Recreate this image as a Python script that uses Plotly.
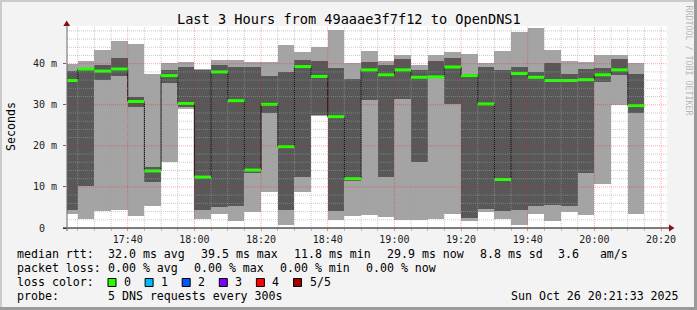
import plotly.graph_objects as go
import pandas as pd

# ---------------- data ----------------
day = "2025-10-26 "
bar_start = ["17:20", "17:25", "17:30", "17:35", "17:40", "17:45", "17:50", "17:55",
             "18:00", "18:05", "18:10", "18:15", "18:20", "18:25", "18:30", "18:35",
             "18:40", "18:45", "18:50", "18:55", "19:00", "19:05", "19:10", "19:15",
             "19:20", "19:25", "19:30", "19:35", "19:40", "19:45", "19:50", "19:55",
             "20:00", "20:05", "20:10"]
# sorted ping rtts (ms) per 5-minute step, 5 pings each
ping1 = [3.5, 2.3, 4.2, 4.5, 3.0, 5.3, 16.0, 28.9, 2.3, 3.5, 1.8, 4.0, 8.7, 0.8, 8.7, 27.2,
         2.0, 3.0, 3.1, 2.8, 1.9, 1.9, 2.3, 3.3, 1.6, 3.8, 2.3, 0.8, 3.3, 1.6, 3.8, 3.1,
         10.8, 29.9, 3.3]
ping2 = [4.5, 10.3, 36.0, 36.9, 29.4, 11.1, 35.2, 29.5, 4.3, 5.0, 5.4, 13.3, 27.9, 4.5, 12.5, 27.6,
         4.1, 11.5, 31.1, 12.5, 31.5, 16.0, 36.5, 30.3, 2.4, 4.7, 4.1, 4.3, 5.3, 5.7, 5.4, 13.3,
         35.5, 37.2, 27.9]
median_rtt = [35.9, 38.7, 38.2, 38.7, 30.8, 13.9, 37.1, 30.3, 12.4, 38.0, 31.0, 14.1, 30.1, 19.8, 39.3, 36.9,
              27.1, 12.0, 38.5, 37.3, 38.5, 36.7, 36.8, 39.2, 37.1, 30.2, 11.8, 37.6, 36.7, 35.9, 35.9, 36.1,
              37.3, 38.5, 29.8]
ping4 = [38.2, 38.9, 39.6, 41.3, 31.8, 14.9, 38.4, 39.3, 38.4, 39.6, 39.2, 39.2, 36.9, 37.9, 40.8, 40.6,
         38.9, 36.2, 40.3, 39.6, 41.1, 38.4, 40.6, 41.5, 37.6, 39.3, 38.4, 39.2, 37.9, 40.1, 37.4, 38.6,
         38.9, 41.1, 37.6]
ping5 = [39.9, 40.6, 43.3, 45.5, 44.7, 37.6, 40.1, 40.3, 38.7, 40.8, 40.8, 40.3, 40.3, 44.5, 42.8, 44.0,
         48.1, 40.1, 43.1, 40.7, 42.0, 39.7, 42.0, 42.8, 42.3, 40.1, 43.0, 47.7, 48.6, 43.3, 40.6, 40.3,
         42.0, 42.0, 40.1]

y_tickvals = [0, 10, 20, 30, 40]
y_ticktext = ["0\u00a0\u00a0", "10 m", "20 m", "30 m", "40 m"]

title_text = "Last 3 Hours from 49aaae3f7f12 to OpenDNS1"
median_label = "median rtt:"
median_items = ["32.0 ms avg", "39.5 ms max", "11.8 ms min", "29.9 ms now", "8.8 ms sd", "3.6   am/s"]
loss_label = "packet loss:"
loss_items = ["0.00 % avg", "0.00 % max", "0.00 % min", "0.00 % now"]
lossc_label = "loss color:"
loss_labels = ["0", "1", "2", "3", "4", "5/5"]
loss_colors = ["#26ff00", "#00b8ff", "#0059ff", "#7e00ff", "#ff0000", "#a10000"]
probe_label = "probe:"
probe_items = ["5 DNS requests every 300s"]
stamp = "Sun Oct 26 20:21:33 2025"
watermark = "RRDTOOL / TOBI OETIKER"

# ---------------- geometry ----------------
FW, FH = 697, 310
L, T, W, H = 67, 26, 600, 202
B = T + H
YMAX = H / 4.1075
x_start = pd.Timestamp(day + "17:21:47")
x_end = x_start + pd.Timedelta(hours=3)
STEP_MS = 300000
MONO = "DejaVu Sans Mono"
LEG = 11.6
CW = LEG * 0.602  # monospace advance


def xp(px):
    return (px - L) / W


def yp(py):
    return (B - py) / H


def nb(s):
    return s.replace(" ", "\u00a0")


starts = pd.to_datetime([day + s for s in bar_start])
centers = starts + pd.Timedelta(seconds=150)
ends = starts + pd.Timedelta(minutes=5)

LIGHT = "#a4a4a4"
DARK = "#585858"

fig = go.Figure()
# outer smoke (ping1..ping5)
fig.add_trace(go.Bar(x=centers, base=ping1, y=[b - a for a, b in zip(ping1, ping5)],
                     width=STEP_MS, marker=dict(color=LIGHT, line=dict(width=0)),
                     hoverinfo="skip"))
# inner smoke (ping2..ping4)
fig.add_trace(go.Bar(x=centers, base=ping2, y=[b - a for a, b in zip(ping2, ping4)],
                     width=STEP_MS, marker=dict(color=DARK, line=dict(width=0)),
                     hoverinfo="skip"))
# median step line
line_x = list(starts) + [ends[-1]]
line_y = list(median_rtt) + [median_rtt[-1]]
fig.add_trace(go.Scatter(x=line_x, y=line_y, mode="lines",
                         line=dict(color="#101010", width=1, shape="hv"),
                         hoverinfo="skip"))
# median marks coloured by loss (all 0 loss)
gx, gy = [], []
for s, e, m in zip(starts, ends, median_rtt):
    gx += [s, e, None]
    gy += [m, m, None]
fig.add_trace(go.Scatter(x=gx, y=gy, mode="lines", connectgaps=False,
                         line=dict(color=loss_colors[0], width=3), hoverinfo="skip"))

shapes = []
# grid drawn above the data (rrdtool style)
minor_col = "rgba(160,160,160,0.55)"
major_col = "rgba(255,0,0,0.35)"
t = pd.Timestamp(day + "17:25")
while t <= x_end:
    major = (t.minute % 20 == 0)
    shapes.append(dict(type="line", xref="x", yref="paper", x0=t, x1=t, y0=0, y1=1,
                       line=dict(color=major_col if major else minor_col, width=1, dash="1px,1px"),
                       layer="above"))
    t += pd.Timedelta(minutes=5)
for v in range(2, int(YMAX) + 1, 2):
    major = (v % 10 == 0)
    shapes.append(dict(type="line", xref="paper", yref="y", x0=0, x1=1, y0=v, y1=v,
                       line=dict(color=major_col if major else minor_col, width=1, dash="1px,1px"),
                       layer="above"))

# axis lines and arrows
shapes.append(dict(type="line", xref="paper", yref="paper", x0=xp(63), x1=xp(670), y0=0, y1=0,
                   line=dict(color="#000000", width=1), layer="above"))
shapes.append(dict(type="line", xref="paper", yref="paper", x0=0, x1=0, y0=yp(231), y1=yp(24),
                   line=dict(color="#666666", width=1), layer="above"))
shapes.append(dict(type="path", xref="paper", yref="paper",
                   path=f"M {xp(66.7)},{yp(20.5)} L {xp(63.3)},{yp(26)} L {xp(70.1)},{yp(26)} Z",
                   fillcolor="#8b1010", line=dict(width=0), layer="above"))
shapes.append(dict(type="path", xref="paper", yref="paper",
                   path=f"M {xp(674.5)},{yp(228)} L {xp(669)},{yp(224.6)} L {xp(669)},{yp(231.4)} Z",
                   fillcolor="#8b1010", line=dict(width=0), layer="above"))

# 3D frame
shapes += [
    dict(type="rect", xref="paper", yref="paper", x0=xp(0), x1=xp(FW), y0=yp(0), y1=yp(2),
         fillcolor="#cbcbcb", line=dict(width=0)),
    dict(type="rect", xref="paper", yref="paper", x0=xp(0), x1=xp(2), y0=yp(0), y1=yp(FH),
         fillcolor="#cbcbcb", line=dict(width=0)),
    dict(type="rect", xref="paper", yref="paper", x0=xp(FW - 3), x1=xp(FW), y0=yp(0), y1=yp(FH),
         fillcolor="#9a9a9a", line=dict(width=0)),
    dict(type="rect", xref="paper", yref="paper", x0=xp(0), x1=xp(FW), y0=yp(FH - 3), y1=yp(FH),
         fillcolor="#9a9a9a", line=dict(width=0)),
]

anns = []


def text_at(txt, px, py, anchor="left", size=LEG, angle=0, color="#000000"):
    anns.append(dict(text=nb(txt), x=xp(px), y=yp(py), xanchor=anchor, yanchor="middle",
                     textangle=angle, font=dict(family=MONO, size=size, color=color)))


text_at(title_text, 348.5, 19, anchor="center", size=13.6)
text_at("Seconds", 11, 127, anchor="center", angle=-90)
text_at(watermark, 688.5, 60, anchor="center", size=8.3, angle=90, color="#b8b8b8")

VAL_X = 107.3
GAP = 16


def legend_row(label, items, py):
    text_at(label, 16, py)
    x = VAL_X
    for it in items:
        text_at(it, x, py)
        x += len(it) * CW + GAP


legend_row(median_label, median_items, 254.3)
legend_row(loss_label, loss_items, 267.7)
legend_row(probe_label, probe_items, 296)
text_at(lossc_label, 16, 282.3)
for i, (lab, c) in enumerate(zip(loss_labels, loss_colors)):
    bx = 108 + 37.1 * i
    shapes.append(dict(type="rect", xref="paper", yref="paper",
                       x0=xp(bx), x1=xp(bx + 8), y0=yp(278.5), y1=yp(286.5),
                       fillcolor=c, line=dict(color="#000000", width=1)))
    text_at(lab, bx + 15, 282.3)
text_at(stamp, 680, 296, anchor="right")

for a in anns:
    a.update(xref="paper", yref="paper", showarrow=False, borderpad=0)

fig.update_layout(
    width=FW, height=FH,
    margin=dict(l=L, r=FW - L - W, t=T, b=FH - B, pad=0),
    paper_bgcolor="#f3f3f3", plot_bgcolor="#ffffff",
    barmode="overlay", bargap=0, showlegend=False,
    shapes=shapes, annotations=anns,
    xaxis=dict(type="date", range=[x_start, x_end], showgrid=False, zeroline=False, showline=False,
               tick0=day + "17:40", dtick=1200000, tickformat="%H:%M",
               ticks="outside", ticklen=2, tickcolor="rgba(255,0,0,0.45)",
               tickfont=dict(family=MONO, size=10, color="#1a1a1a"),
               minor=dict(ticks="outside", ticklen=2, dtick=STEP_MS, tick0=day + "17:20",
                          tickcolor="#bbbbbb", showgrid=False)),
    yaxis=dict(range=[0, YMAX], tickvals=y_tickvals, ticktext=y_ticktext, showgrid=False,
               zeroline=False, showline=False, ticks="outside", ticklen=3, tickcolor="#666666",
               ticklabelstandoff=4,
               tickfont=dict(family=MONO, size=10, color="#1a1a1a")),
)

fig.write_html("out.html")
